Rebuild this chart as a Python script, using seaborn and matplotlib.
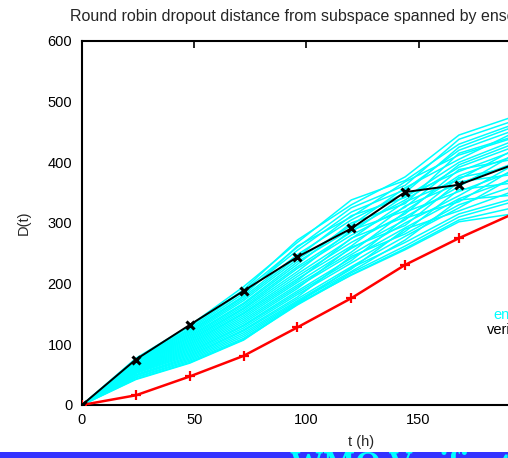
import numpy as np
import pandas as pd
import matplotlib
matplotlib.use("Agg")
import matplotlib.pyplot as plt
from matplotlib.patches import Rectangle
import seaborn as sns

# lead times (hours)
hours = [0, 24, 48, 72, 96, 120, 144, 168, 192]

# verification dropout distance
verification = [0, 75, 132, 188, 244, 291, 351, 363, 396]
# reference (red) curve
reference = [0, 16, 47, 81, 128, 176, 231, 275, 315]

# ensemble members' dropout distances
members = [
    [0, 77, 131, 195, 268, 338, 370, 430, 462],
    [0, 75, 129, 190, 272, 330, 376, 445, 475],
    [0, 74, 126, 188, 260, 325, 362, 438, 468],
    [0, 73, 124, 184, 255, 318, 355, 420, 452],
    [0, 72, 122, 180, 262, 310, 368, 412, 440],
    [0, 71, 120, 178, 248, 305, 350, 425, 458],
    [0, 70, 118, 175, 244, 312, 342, 400, 435],
    [0, 69, 116, 172, 240, 296, 358, 405, 448],
    [0, 68, 114, 168, 236, 290, 338, 392, 425],
    [0, 67, 112, 166, 232, 300, 332, 415, 442],
    [0, 66, 110, 163, 228, 285, 345, 385, 418],
    [0, 65, 108, 160, 225, 280, 326, 396, 430],
    [0, 64, 106, 158, 220, 288, 320, 378, 410],
    [0, 63, 104, 155, 216, 274, 335, 372, 420],
    [0, 62, 102, 152, 212, 268, 315, 388, 405],
    [0, 61, 100, 150, 208, 262, 328, 365, 398],
    [0, 60, 98, 147, 205, 275, 310, 360, 412],
    [0, 59, 96, 144, 202, 258, 305, 375, 392],
    [0, 58, 94, 141, 198, 252, 318, 352, 385],
    [0, 57, 92, 138, 195, 248, 300, 345, 395],
    [0, 56, 90, 135, 192, 260, 296, 368, 380],
    [0, 55, 88, 132, 188, 242, 292, 340, 372],
    [0, 54, 86, 130, 185, 238, 308, 335, 388],
    [0, 53, 84, 127, 182, 234, 286, 355, 366],
    [0, 52, 82, 124, 178, 245, 282, 330, 360],
    [0, 50, 80, 122, 175, 228, 278, 325, 375],
    [0, 49, 78, 119, 172, 224, 290, 320, 352],
    [0, 48, 76, 116, 170, 220, 272, 338, 346],
    [0, 46, 74, 113, 168, 226, 268, 315, 340],
    [0, 45, 72, 110, 166, 218, 262, 310, 335],
    [0, 43, 70, 108, 165, 215, 258, 305, 325],
    [0, 42, 69, 107, 167, 214, 256, 302, 315],
]

title = "Round robin dropout distance from subspace spanned by ensemble"
legend_labels = ["ensemble", "verification"]

sns.set_style("white")
plt.rcParams["font.family"] = ["Liberation Sans", "DejaVu Sans"]

W, H = 508, 458
fig = plt.figure(figsize=(W / 100, H / 100), dpi=100)

# axes extend past the right edge of the figure
x0, y0, y1 = 82, 405, 41
xmax = 250
ppu = 2.244
ax = fig.add_axes([x0 / W, (H - y0) / H, xmax * ppu / W, (y0 - y1) / H])

ens = pd.DataFrame(
    [(i, t, d) for i, m in enumerate(members) for t, d in zip(hours, m)],
    columns=["member", "t", "D"],
)
sns.lineplot(data=ens, x="t", y="D", units="member", estimator=None,
             color="#00ffff", lw=1.1, ax=ax, legend=False, zorder=2)

ver = pd.DataFrame({"t": hours, "D": verification})
sns.lineplot(data=ver, x="t", y="D", color="black", lw=1.4, marker="x",
             markersize=6, markeredgewidth=2.2, markeredgecolor="black",
             ax=ax, zorder=4)

ref = pd.DataFrame({"t": hours, "D": reference})
sns.lineplot(data=ref, x="t", y="D", color="#ff0000", lw=1.8, marker="+",
             markersize=7, markeredgewidth=1.6, markeredgecolor="#ff0000",
             ax=ax, zorder=3)

ax.set_xlim(0, xmax)
ax.set_ylim(0, 600)
ax.set_xticks([0, 50, 100, 150, 200, 250])
ax.set_yticks(range(0, 601, 100))
ax.tick_params(direction="in", length=5, width=1.2, top=True, right=True,
               labelsize=10.5, colors="black", pad=6)
ax.tick_params(axis="y", pad=7)
for s in ax.spines.values():
    s.set_linewidth(1.5)
    s.set_color("black")
ax.set_xlabel("t (h)", fontsize=10.5, labelpad=2)
ax.set_ylabel("D(t)", fontsize=10.5, labelpad=12)
ax.xaxis.set_label_coords((361 - x0) / (xmax * ppu), -0.083)

fig.text(70 / W, (H - 21) / H, title, fontsize=11.5, ha="left", va="baseline")

fig.text(493 / W, (H - 319) / H, legend_labels[0], fontsize=10.5,
         color="#00ffff", ha="left", va="baseline")
fig.text(487 / W, (H - 334) / H, legend_labels[1], fontsize=10.5,
         color="black", ha="left", va="baseline")

# slide banner along the bottom edge
band = Rectangle((0, 0), 1, 6 / H, transform=fig.transFigure,
                 facecolor="#3333ff", edgecolor="none", zorder=5)
fig.patches.append(band)
banner = fig.text(290 / W, (H - 474) / H, "WMO Verification", fontsize=24,
                  family=["Liberation Serif"], weight="bold", color="#00ffff",
                  ha="left", va="baseline", zorder=6)
banner.set_clip_path(band)

fig.savefig("out.png", dpi=100)
